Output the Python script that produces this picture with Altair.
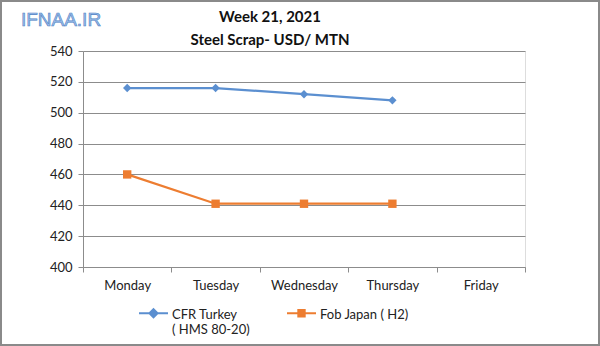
import altair as alt
import pandas as pd

days = ["Monday", "Tuesday", "Wednesday", "Thursday", "Friday"]
series_names = ["CFR Turkey", "Fob Japan ( H2)"]
cfr_values = [516, 516, 512, 508]
fob_values = [460, 441, 441, 441]
colors = ["#5B8FD0", "#ED7D31"]
y_ticks = [400, 420, 440, 460, 480, 500, 520, 540]
title_lines = ["Week 21, 2021", "Steel Scrap- USD/ MTN"]

rows = []
for d, v in zip(days, cfr_values):
    rows.append({"day": d, "series": series_names[0], "value": v})
for d, v in zip(days, fob_values):
    rows.append({"day": d, "series": series_names[1], "value": v})
df = pd.DataFrame(rows)

FONT = "Lato"
GRID = "#8c8c8c"

x = alt.X("day:N", sort=days,
          scale=alt.Scale(domain=days, type="band", paddingInner=0, paddingOuter=0),
          axis=alt.Axis(title=None, tickBand="extent", labelAngle=0, labelFont=FONT,
                        labelFontSize=13, labelColor="#222222", domainColor=GRID,
                        tickColor=GRID, tickSize=5, labelPadding=7, grid=False))
y = alt.Y("value:Q", scale=alt.Scale(domain=[400, 540], nice=False, zero=False),
          axis=alt.Axis(title=None, values=y_ticks, labelFont=FONT, labelFontSize=13,
                        labelColor="#222222", domainColor=GRID, tickColor=GRID,
                        tickSize=5, labelPadding=6, grid=True, gridColor=GRID,
                        gridWidth=1))

is_cfr = alt.datum.series == series_names[0]
color_cond = alt.condition(is_cfr, alt.value(colors[0]), alt.value(colors[1]))
shape_cond = alt.condition(is_cfr, alt.value("diamond"), alt.value("square"))

base = alt.Chart(df)

lines = base.mark_line(strokeWidth=2.25).encode(x=x, y=y, detail="series:N", color=color_cond)
points = base.mark_point(filled=True, size=70, opacity=1).encode(
    x=x, y=y, shape=shape_cond, color=color_cond)

# legend symbols: short line with marker, aligned with first label line
diamond_path = "M-1,-0.1H1M0,-0.38L0.28,-0.1L0,0.18L-0.28,-0.1Z"
square_path = "M-1,-0.1H1M-0.22,-0.32H0.22V0.12H-0.22Z"

leg = alt.Legend(title=None, orient="none", legendX=55, legendY=248,
                 direction="horizontal", symbolSize=841, symbolStrokeWidth=2,
                 labelFont=FONT, labelFontSize=13, labelColor="#222222",
                 labelOffset=3, columnPadding=33, labelBaseline="middle",
                 labelExpr="datum.label == 'CFR Turkey' ? ['CFR Turkey', '( HMS 80-20)'] : [datum.label, ' ']")

legend_layer = base.transform_filter("false").mark_point(filled=True, opacity=1).encode(
    x=x, y=y,
    color=alt.Color("series:N", scale=alt.Scale(domain=series_names, range=colors), legend=leg),
    stroke=alt.Stroke("series:N", scale=alt.Scale(domain=series_names, range=colors), legend=leg),
    shape=alt.Shape("series:N", scale=alt.Scale(domain=series_names, range=[diamond_path, square_path]), legend=leg),
)

one = alt.Data(values=[{"a": 1}])
watermark = alt.Chart(one).mark_text(
    text="IFNAA.IR", font="Liberation Sans", fontSize=19, fill="#9cc0ea",
    stroke="#4f7fc4", strokeWidth=0.6, align="center", baseline="middle"
).encode(x=alt.value(-22), y=alt.value(-31))

title1 = alt.Chart(one).mark_text(
    text=title_lines[0], font=FONT, fontSize=15, fontWeight="bold", color="#111111",
    align="center", baseline="middle"
).encode(x=alt.value(187), y=alt.value(-34))
title2 = alt.Chart(one).mark_text(
    text=title_lines[1], font=FONT, fontSize=15, fontWeight="bold", color="#111111",
    align="center", baseline="middle"
).encode(x=alt.value(187), y=alt.value(-11))

border = alt.Chart(one).mark_rect(fill=None, stroke="#8a8a8a", strokeWidth=2).encode(
    x=alt.value(-82), x2=alt.value(516), y=alt.value(-50), y2=alt.value(294))

chart = alt.layer(lines, points, legend_layer, watermark, title1, title2, border).properties(
    width=442, height=216,
    autosize=alt.AutoSizeParams(type="none"),
    padding={"left": 83, "top": 51, "right": 75, "bottom": 79},
).configure_view(stroke=None).configure(background="white")

chart.save("out.html", embed_options={"renderer": "svg", "actions": False})
